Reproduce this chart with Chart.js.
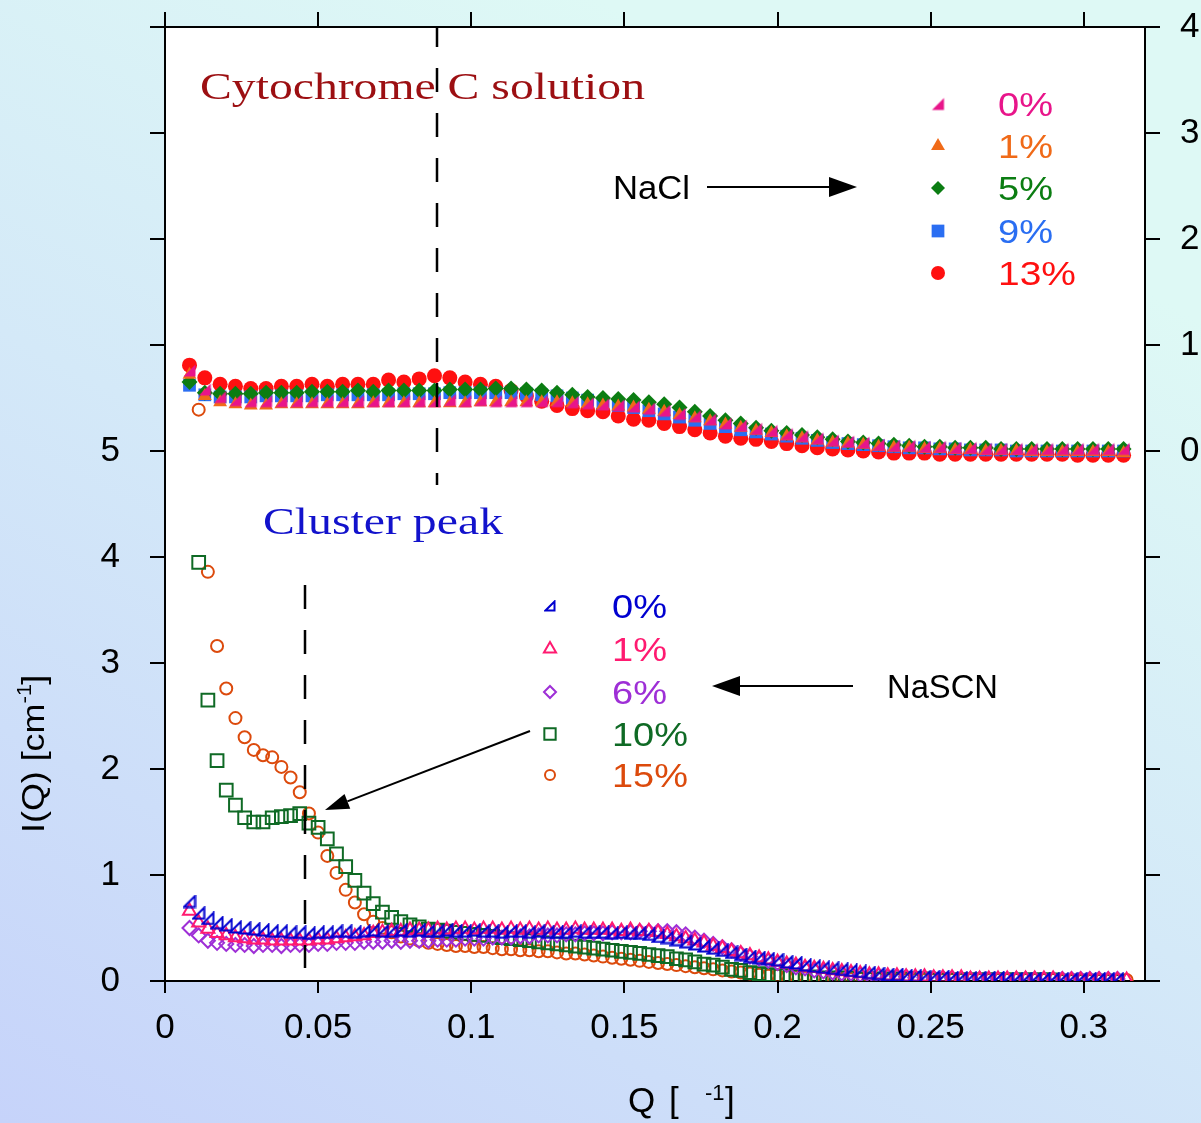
<!DOCTYPE html>
<html>
<head>
<meta charset="utf-8">
<script src="https://cdn.jsdelivr.net/npm/chart.js@4.4.0/dist/chart.umd.min.js"></script>
<style>
  html, body { margin: 0; padding: 0; background: #d6eaf8; }
  #wrap { width: 1201px; height: 1123px; }
</style>
</head>
<body>
<div id="wrap"><canvas id="c" width="1201" height="1123"></canvas></div>
<script>
// Q grid of the NaSCN runs (lower set)
const qLow = [
  0.008, 0.011, 0.014, 0.017, 0.020, 0.023, 0.026, 0.029, 0.032, 0.035,
  0.038, 0.041, 0.044, 0.047, 0.050, 0.053, 0.056, 0.059, 0.062, 0.065,
  0.068, 0.071, 0.074, 0.077, 0.080, 0.083, 0.086, 0.089, 0.092, 0.095,
  0.098, 0.101, 0.104, 0.107, 0.110, 0.113, 0.116, 0.119, 0.122, 0.125,
  0.128, 0.131, 0.134, 0.137, 0.140, 0.143, 0.146, 0.149, 0.152, 0.155,
  0.158, 0.161, 0.164, 0.167, 0.170, 0.173, 0.176, 0.179, 0.182, 0.185,
  0.188, 0.191, 0.194, 0.197, 0.200, 0.203, 0.206, 0.209, 0.212, 0.215,
  0.218, 0.221, 0.224, 0.227, 0.230, 0.233, 0.236, 0.239, 0.242, 0.245,
  0.248, 0.251, 0.254, 0.257, 0.260, 0.263, 0.266, 0.269, 0.272, 0.275,
  0.278, 0.281, 0.284, 0.287, 0.290, 0.293, 0.296, 0.299, 0.302, 0.305,
  0.308, 0.311, 0.314
];

const nascn0 = [
  0.75, 0.64, 0.59, 0.55, 0.53, 0.51, 0.50, 0.49, 0.48, 0.47,
  0.47, 0.46, 0.46, 0.45, 0.46, 0.46, 0.47, 0.47, 0.46, 0.47,
  0.48, 0.47, 0.47, 0.48, 0.47, 0.48, 0.47, 0.47, 0.48, 0.47,
  0.47, 0.48, 0.47, 0.47, 0.46, 0.47, 0.47, 0.46, 0.47, 0.46,
  0.46, 0.46, 0.47, 0.46, 0.46, 0.46, 0.45, 0.46, 0.45, 0.45,
  0.44, 0.42, 0.41, 0.39, 0.37, 0.35, 0.33, 0.31, 0.29, 0.27,
  0.25, 0.23, 0.22, 0.21, 0.20, 0.18, 0.17, 0.15, 0.14, 0.13,
  0.12, 0.11, 0.10, 0.09, 0.08, 0.07, 0.06, 0.06, 0.05, 0.05,
  0.04, 0.04, 0.04, 0.03, 0.03, 0.03, 0.03, 0.03, 0.03, 0.02,
  0.02, 0.02, 0.02, 0.02, 0.02, 0.02, 0.02, 0.02, 0.02, 0.02,
  0.02, 0.02, null
];
const nascn1 = [
  0.66, 0.55, 0.49, 0.45, 0.43, 0.41, 0.40, 0.39, 0.39, 0.38,
  0.38, 0.38, 0.38, 0.38, 0.39, 0.39, 0.40, 0.41, 0.42, 0.43,
  0.45, 0.46, 0.47, 0.47, 0.48, 0.48, 0.48, 0.49, 0.48, 0.49,
  0.49, 0.48, 0.49, 0.49, 0.48, 0.49, 0.48, 0.49, 0.48, 0.49,
  0.48, 0.48, 0.49, 0.48, 0.48, 0.48, 0.48, 0.47, 0.48, 0.47,
  0.47, 0.46, 0.44, 0.42, 0.40, 0.38, 0.36, 0.33, 0.31, 0.28,
  0.26, 0.24, 0.22, 0.20, 0.18, 0.16, 0.15, 0.13, 0.12, 0.11,
  0.10, 0.09, 0.08, 0.07, 0.06, 0.06, 0.05, 0.05, 0.04, 0.04,
  0.04, 0.03, 0.03, 0.03, 0.03, 0.02, 0.02, 0.02, 0.02, 0.02,
  0.02, 0.02, 0.02, 0.02, 0.02, 0.01, 0.01, 0.01, 0.01, 0.01,
  0.01, 0.01, 0.01
];
const nascn6 = [
  0.50, 0.43, 0.38, 0.36, 0.35, 0.34, 0.34, 0.33, 0.34, 0.34,
  0.33, 0.34, 0.34, 0.34, 0.35, 0.35, 0.36, 0.36, 0.36, 0.37,
  0.37, 0.37, 0.38, 0.37, 0.38, 0.38, 0.38, 0.39, 0.39, 0.39,
  0.40, 0.40, 0.40, 0.41, 0.41, 0.41, 0.42, 0.42, 0.43, 0.43,
  0.43, 0.44, 0.44, 0.45, 0.45, 0.45, 0.46, 0.46, 0.46, 0.47,
  0.47, 0.47, 0.47, 0.46, 0.44, 0.41, 0.38, 0.35, 0.32, 0.29,
  0.26, 0.23, 0.21, 0.19, 0.17, 0.15, 0.13, 0.12, 0.10, 0.09,
  0.08, 0.07, 0.07, 0.06, 0.05, 0.05, 0.04, 0.04, 0.04, 0.03,
  0.03, 0.03, 0.03, 0.03, 0.02, 0.02, 0.02, 0.02, 0.02, 0.02,
  0.02, 0.02, 0.02, 0.02, 0.02, 0.02, 0.02, 0.02, 0.02, 0.02,
  0.02, 0.02, null
];
const nascn10 = [
  null, 3.95, 2.65, 2.08, 1.80, 1.66, 1.54, 1.50, 1.50, 1.54,
  1.55, 1.56, 1.58, 1.49, 1.45, 1.34, 1.20, 1.08, 0.95, 0.83,
  0.73, 0.65, 0.60, 0.56, 0.53, 0.51, 0.49, 0.48, 0.47, 0.46,
  0.45, 0.44, 0.43, 0.42, 0.41, 0.40, 0.39, 0.38, 0.37, 0.36,
  0.35, 0.34, 0.33, 0.32, 0.31, 0.30, 0.29, 0.28, 0.27, 0.26,
  0.25, 0.24, 0.23, 0.21, 0.20, 0.18, 0.16, 0.15, 0.13, 0.11,
  0.10, 0.08, 0.07, 0.06, 0.05, 0.05, 0.04, 0.04, 0.04, 0.03,
  0.03, 0.03, 0.03, 0.02, 0.02, 0.02, 0.02, 0.02, 0.02, 0.02,
  0.02, 0.01, 0.01, 0.01, 0.01, 0.01, 0.01, 0.01, 0.01, 0.01,
  0.01, 0.01, 0.01, 0.01, 0.01, 0.00, 0.00, 0.00, 0.00, 0.00,
  0.00, 0.00, null
];
const nascn15 = [
  null, 5.39, 3.86, 3.16, 2.76, 2.48, 2.30, 2.18, 2.13, 2.11,
  2.02, 1.92, 1.78, 1.58, 1.40, 1.18, 1.02, 0.86, 0.74, 0.63,
  0.56, 0.50, 0.46, 0.42, 0.40, 0.38, 0.36, 0.35, 0.34, 0.33,
  0.33, 0.32, 0.32, 0.31, 0.30, 0.30, 0.29, 0.29, 0.28, 0.28,
  0.27, 0.26, 0.26, 0.25, 0.24, 0.23, 0.22, 0.21, 0.20, 0.19,
  0.18, 0.17, 0.16, 0.15, 0.14, 0.13, 0.12, 0.11, 0.10, 0.09,
  0.08, 0.07, 0.06, 0.05, 0.05, 0.04, 0.04, 0.03, 0.03, 0.03,
  0.02, 0.02, 0.02, 0.02, 0.02, 0.02, 0.01, 0.01, 0.01, 0.01,
  0.01, 0.01, 0.01, 0.01, 0.01, 0.01, 0.01, 0.01, 0.01, 0.01,
  0.01, 0.01, 0.01, 0.01, 0.01, 0.00, 0.00, 0.00, 0.00, 0.00,
  0.00, 0.00, 0.01
];

// Q grid of the NaCl runs (upper set, read on the right axis)
const qHigh = [
  0.008, 0.013, 0.018, 0.023, 0.028, 0.033, 0.038, 0.043, 0.048, 0.053,
  0.058, 0.063, 0.068, 0.073, 0.078, 0.083, 0.088, 0.093, 0.098, 0.103,
  0.108, 0.113, 0.118, 0.123, 0.128, 0.133, 0.138, 0.143, 0.148, 0.153,
  0.158, 0.163, 0.168, 0.173, 0.178, 0.183, 0.188, 0.193, 0.198, 0.203,
  0.208, 0.213, 0.218, 0.223, 0.228, 0.233, 0.238, 0.243, 0.248, 0.253,
  0.258, 0.263, 0.268, 0.273, 0.278, 0.283, 0.288, 0.293, 0.298, 0.303,
  0.308, 0.313
];

const nacl0 = [
  0.76, 0.58, 0.51, 0.48, 0.47, 0.47, 0.47, 0.47, 0.47, 0.47,
  0.47, 0.47, 0.47, 0.47, 0.47, 0.47, 0.47, 0.48, 0.47, 0.48,
  0.47, 0.47, 0.47, 0.47, 0.47, 0.46, 0.45, 0.44, 0.43, 0.42,
  0.40, 0.38, 0.35, 0.33, 0.30, 0.26, 0.24, 0.21, 0.19, 0.16,
  0.14, 0.12, 0.10, 0.09, 0.08, 0.06, 0.05, 0.05, 0.04, 0.04,
  0.03, 0.03, 0.02, 0.02, 0.02, 0.02, 0.02, 0.02, 0.02, 0.02,
  0.02, 0.02
];
const nacl1 = [
  0.72, 0.52, 0.46, 0.44, 0.43, 0.43, 0.44, 0.44, 0.44, 0.44,
  0.44, 0.44, 0.45, 0.45, 0.45, 0.45, 0.45, 0.45, 0.45, 0.46,
  0.46, 0.46, 0.46, 0.46, 0.46, 0.45, 0.44, 0.43, 0.42, 0.41,
  0.39, 0.37, 0.34, 0.31, 0.28, 0.25, 0.22, 0.19, 0.17, 0.14,
  0.12, 0.10, 0.08, 0.07, 0.06, 0.04, 0.03, 0.03, 0.02, 0.02,
  0.01, 0.01, 0.00, 0.00, 0.00, -0.01, -0.01, -0.01, -0.01, -0.01,
  -0.01, -0.02
];
const nacl5 = [
  0.65, 0.55, 0.54, 0.54, 0.54, 0.55, 0.55, 0.55, 0.56, 0.56,
  0.56, 0.57, 0.56, 0.57, 0.57, 0.57, 0.57, 0.58, 0.58, 0.58,
  0.59, 0.59, 0.58, 0.57, 0.55, 0.53, 0.51, 0.50, 0.49, 0.48,
  0.46, 0.44, 0.41, 0.37, 0.33, 0.29, 0.26, 0.22, 0.19, 0.17,
  0.15, 0.13, 0.11, 0.09, 0.08, 0.07, 0.06, 0.05, 0.04, 0.04,
  0.03, 0.03, 0.03, 0.02, 0.02, 0.02, 0.02, 0.02, 0.02, 0.02,
  0.02, 0.02
];
const nacl9 = [
  0.62, 0.53, 0.51, 0.51, 0.51, 0.52, 0.52, 0.52, 0.52, 0.53,
  0.53, 0.53, 0.53, 0.53, 0.54, 0.54, 0.54, 0.55, 0.55, 0.55,
  0.55, 0.55, 0.54, 0.53, 0.52, 0.50, 0.48, 0.45, 0.43, 0.41,
  0.38, 0.35, 0.32, 0.29, 0.26, 0.23, 0.20, 0.18, 0.16, 0.14,
  0.12, 0.10, 0.08, 0.07, 0.06, 0.05, 0.04, 0.03, 0.03, 0.02,
  0.02, 0.01, 0.01, 0.01, 0.00, 0.00, 0.00, 0.00, 0.00, 0.00,
  0.00, 0.00
];
const nacl13 = [
  0.81, 0.69, 0.63, 0.61, 0.59, 0.59, 0.61, 0.61, 0.63, 0.61,
  0.63, 0.63, 0.63, 0.67, 0.65, 0.68, 0.71, 0.69, 0.65, 0.63,
  0.61, 0.57, 0.52, 0.47, 0.43, 0.40, 0.38, 0.37, 0.33, 0.30,
  0.29, 0.26, 0.23, 0.20, 0.17, 0.14, 0.12, 0.11, 0.09, 0.07,
  0.05, 0.03, 0.02, 0.01, 0.00, -0.01, -0.02, -0.02, -0.02, -0.03,
  -0.03, -0.03, -0.03, -0.03, -0.03, -0.03, -0.03, -0.03, -0.04, -0.04,
  -0.04, -0.04
];

const naclLabels = ['0%', '1%', '5%', '9%', '13%'];
const nascnLabels = ['0%', '1%', '6%', '10%', '15%'];

const SANS = "'Liberation Sans', Arial, sans-serif";
const SERIF = "'Liberation Serif', 'Times New Roman', serif";

function rightTri(color, filled, s) {
  const c = document.createElement('canvas');
  c.width = s; c.height = s;
  const g = c.getContext('2d');
  g.beginPath();
  g.moveTo(1.5, s - 1.5);
  g.lineTo(s - 1.5, s - 1.5);
  g.lineTo(s - 1.5, 1.5);
  g.closePath();
  if (filled) {
    g.fillStyle = color;
    g.fill();
  } else {
    g.strokeStyle = color;
    g.lineWidth = 2;
    g.stroke();
  }
  return c;
}

function pts(qs, ys) {
  const out = [];
  qs.forEach((q, i) => {
    if (ys[i] !== null && ys[i] !== undefined) out.push({ x: q, y: ys[i] });
  });
  return out;
}

const naclColors = ['#e8158a', '#f06a18', '#0b7d12', '#2a6ef2', '#ff1010'];
const nascnColors = ['#0000d0', '#ff1a70', '#9e2fd6', '#0f6a25', '#dc4a0c'];

const naclStyles = [
  { pointStyle: rightTri(naclColors[0], true, 15), pointRadius: 7 },
  { pointStyle: 'triangle', pointRadius: 8 },
  { pointStyle: 'rectRot', pointRadius: 8 },
  { pointStyle: 'rect', pointRadius: 9 },
  { pointStyle: 'circle', pointRadius: 7.5 }
];
const nascnStyles = [
  { pointStyle: rightTri(nascnColors[0], false, 14), pointRadius: 7 },
  { pointStyle: 'triangle', pointRadius: 7.5 },
  { pointStyle: 'rectRot', pointRadius: 7 },
  { pointStyle: 'rect', pointRadius: 9 },
  { pointStyle: 'circle', pointRadius: 6 }
];

const datasets = [];
// lower set, drawn on top (first dataset is painted last)
[nascn0, nascn1, nascn6, nascn10, nascn15].forEach((arr, i) => {
  datasets.push({
    label: 'NaSCN ' + nascnLabels[i],
    data: pts(qLow, arr),
    yAxisID: 'y',
    showLine: false,
    pointStyle: nascnStyles[i].pointStyle,
    pointRadius: nascnStyles[i].pointRadius,
    pointBackgroundColor: 'rgba(0,0,0,0)',
    pointBorderColor: nascnColors[i],
    pointBorderWidth: 2
  });
});
[nacl0, nacl1, nacl5, nacl9, nacl13].forEach((arr, i) => {
  datasets.push({
    label: 'NaCl ' + naclLabels[i],
    data: pts(qHigh, arr),
    yAxisID: 'y2',
    showLine: false,
    pointStyle: naclStyles[i].pointStyle,
    pointRadius: naclStyles[i].pointRadius,
    pointBackgroundColor: naclColors[i],
    pointBorderColor: naclColors[i],
    pointBorderWidth: 0
  });
});

function stretched(ctx, str, x, y, font, color, width) {
  ctx.save();
  ctx.font = font;
  ctx.fillStyle = color;
  ctx.textAlign = 'left';
  ctx.textBaseline = 'alphabetic';
  const w0 = ctx.measureText(str).width;
  ctx.translate(x, y);
  ctx.scale(width / w0, 1);
  ctx.fillText(str, 0, 0);
  ctx.restore();
}

function arrow(ctx, x1, y1, x2, y2, headLen, headHalf) {
  const a = Math.atan2(y2 - y1, x2 - x1);
  const bx = x2 - headLen * Math.cos(a), by = y2 - headLen * Math.sin(a);
  ctx.save();
  ctx.strokeStyle = '#000';
  ctx.fillStyle = '#000';
  ctx.lineWidth = 2;
  ctx.beginPath();
  ctx.moveTo(x1, y1);
  ctx.lineTo(bx, by);
  ctx.stroke();
  ctx.beginPath();
  ctx.moveTo(x2, y2);
  ctx.lineTo(bx + headHalf * Math.sin(a), by - headHalf * Math.cos(a));
  ctx.lineTo(bx - headHalf * Math.sin(a), by + headHalf * Math.cos(a));
  ctx.closePath();
  ctx.fill();
  ctx.restore();
}

function marker(ctx, style, x, y, r, color, filled) {
  ctx.save();
  if (style instanceof HTMLCanvasElement) {
    ctx.drawImage(style, x - style.width / 2, y - style.height / 2);
    ctx.restore();
    return;
  }
  ctx.beginPath();
  if (style === 'circle') {
    ctx.arc(x, y, r, 0, Math.PI * 2);
  } else if (style === 'triangle') {
    ctx.moveTo(x, y - r);
    ctx.lineTo(x + r * 0.866, y + r * 0.5);
    ctx.lineTo(x - r * 0.866, y + r * 0.5);
    ctx.closePath();
  } else if (style === 'rect') {
    const s = r * Math.SQRT1_2;
    ctx.rect(x - s, y - s, 2 * s, 2 * s);
  } else if (style === 'rectRot') {
    ctx.moveTo(x, y - r);
    ctx.lineTo(x + r, y);
    ctx.lineTo(x, y + r);
    ctx.lineTo(x - r, y);
    ctx.closePath();
  }
  if (filled) {
    ctx.fillStyle = color;
    ctx.fill();
  } else {
    ctx.strokeStyle = color;
    ctx.lineWidth = 2;
    ctx.stroke();
  }
  ctx.restore();
}

const backdrop = {
  id: 'backdrop',
  beforeDraw(chart) {
    const ctx = chart.ctx;
    const a = chart.chartArea;
    const g = ctx.createLinearGradient(0, chart.height, 600, 0);
    g.addColorStop(0, '#c6d3fa');
    g.addColorStop(0.55, '#d4e9f8');
    g.addColorStop(1, '#def9f5');
    ctx.save();
    ctx.fillStyle = g;
    ctx.fillRect(0, 0, chart.width, chart.height);
    ctx.fillStyle = '#ffffff';
    ctx.fillRect(a.left, a.top, a.right - a.left, a.bottom - a.top);
    ctx.restore();
  }
};

const notes = {
  id: 'notes',
  afterDatasetsDraw(chart) {
    const ctx = chart.ctx;
    const a = chart.chartArea;
    // dashed guide lines
    ctx.save();
    ctx.beginPath();
    ctx.rect(a.left, a.top, a.right - a.left, a.bottom - a.top);
    ctx.clip();
    ctx.strokeStyle = '#000';
    ctx.lineWidth = 2.5;
    ctx.setLineDash([24, 21]);
    ctx.beginPath();
    ctx.moveTo(437, 23);
    ctx.lineTo(437, 485);
    ctx.stroke();
    ctx.beginPath();
    ctx.moveTo(305, 585);
    ctx.lineTo(305, 968);
    ctx.stroke();
    ctx.restore();
  },
  afterDraw(chart) {
    const ctx = chart.ctx;
    stretched(ctx, 'Cytochrome C solution', 200, 99, '37px ' + SERIF, '#9c0f12', 445);
    stretched(ctx, 'Cluster peak', 263, 534, '37px ' + SERIF, '#1212cc', 240);

    stretched(ctx, 'NaCl', 613, 199, '33px ' + SANS, '#000', 77);
    arrow(ctx, 707, 187, 857, 187, 28, 10);
    stretched(ctx, 'NaSCN', 887, 698, '33px ' + SANS, '#000', 111);
    arrow(ctx, 853, 686, 712, 686, 28, 10);
    arrow(ctx, 530, 731, 325, 810, 24, 8);

    // NaCl legend
    const rowsA = [104, 146, 188, 231, 273];
    const widthsA = [55, 55, 55, 55, 78];
    naclLabels.forEach((t, i) => {
      const st = naclStyles[i].pointStyle;
      const r = [7, 8, 7, 9, 7][i];
      marker(ctx, st, 938, rowsA[i], r, naclColors[i], true);
      stretched(ctx, t, 998, rowsA[i] + 12, '33px ' + SANS, naclColors[i], widthsA[i]);
    });
    // NaSCN legend
    const rowsB = [606, 649, 692, 734, 775];
    const widthsB = [55, 55, 55, 76, 76];
    nascnLabels.forEach((t, i) => {
      const st = i === 0 ? rightTri(nascnColors[0], false, 12) : nascnStyles[i].pointStyle;
      const r = [6, 7, 6, 8, 5][i];
      marker(ctx, st, 550, rowsB[i], r, nascnColors[i], false);
      stretched(ctx, t, 612, rowsB[i] + 12, '33px ' + SANS, nascnColors[i], widthsB[i]);
    });

    // axis titles
    ctx.save();
    ctx.fillStyle = '#000';
    ctx.textBaseline = 'alphabetic';
    ctx.font = '35px ' + SANS;
    ctx.fillText('Q', 628, 1112);
    ctx.fillText('[', 669, 1112);
    ctx.font = '22px ' + SANS;
    ctx.fillText('-1', 705, 1100);
    ctx.font = '35px ' + SANS;
    ctx.fillText(']', 725, 1112);
    ctx.restore();

    ctx.save();
    ctx.translate(44, 833);
    ctx.rotate(-Math.PI / 2);
    ctx.fillStyle = '#000';
    ctx.textBaseline = 'alphabetic';
    ctx.font = '32px ' + SANS;
    const main = 'I(Q) [cm';
    ctx.save();
    ctx.scale(1.12, 1);
    ctx.fillText(main, 0, 0);
    const w = ctx.measureText(main).width;
    ctx.font = '20px ' + SANS;
    ctx.fillText('-1', w, -13);
    const w2 = ctx.measureText('-1').width;
    ctx.font = '32px ' + SANS;
    ctx.fillText(']', w + w2 - 1, 0);
    ctx.restore();
    ctx.restore();
  }
};

const tickFont = { family: SANS, size: 35 };
function gridOpts(len) {
  return { display: true, drawOnChartArea: false, drawTicks: true, tickLength: len, color: '#000', lineWidth: 2 };
}
const borderOpts = { display: true, color: '#000', width: 2 };
function noPad(s) {
  s.paddingTop = 0; s.paddingBottom = 0; s.paddingLeft = 0; s.paddingRight = 0;
}

new Chart(document.getElementById('c'), {
  type: 'scatter',
  data: { datasets: datasets },
  options: {
    responsive: false,
    devicePixelRatio: 1,
    animation: false,
    events: [],
    layout: { padding: 0 },
    plugins: { legend: { display: false }, tooltip: { enabled: false } },
    scales: {
      x: {
        type: 'linear', position: 'bottom', min: 0, max: 0.32,
        ticks: { stepSize: 0.05, includeBounds: false, font: tickFont, color: '#000', padding: 14,
          maxRotation: 0, autoSkip: false, callback: v => String(+v.toFixed(2)) },
        grid: gridOpts(12), border: borderOpts,
        afterFit(s) { s.height = 142; noPad(s); }
      },
      x2: {
        type: 'linear', position: 'top', min: 0, max: 0.32,
        ticks: { stepSize: 0.05, includeBounds: false, callback: () => '', font: tickFont },
        grid: gridOpts(15), border: borderOpts,
        afterFit(s) { s.height = 27; noPad(s); }
      },
      y: {
        type: 'linear', position: 'left', min: 0, max: 9,
        ticks: { stepSize: 1, font: tickFont, color: '#000', padding: 30,
          callback: v => (v <= 5 ? String(v) : '') },
        grid: gridOpts(15), border: borderOpts,
        afterFit(s) { s.width = 165; noPad(s); }
      },
      y2: {
        type: 'linear', position: 'right', min: -5, max: 4,
        ticks: { stepSize: 1, font: tickFont, color: '#000', padding: 20,
          callback: v => (v >= 0 ? String(v) : '') },
        grid: gridOpts(15), border: borderOpts,
        afterFit(s) { s.width = 56; noPad(s); }
      }
    }
  },
  plugins: [backdrop, notes]
});
</script>
</body>
</html>
